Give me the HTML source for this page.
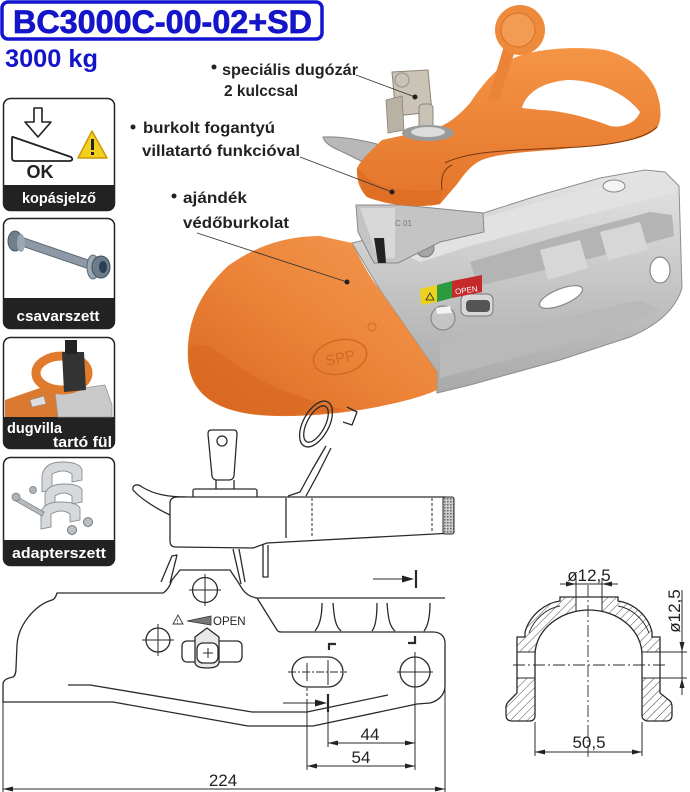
<!DOCTYPE html>
<html><head><meta charset="utf-8"><style>
html,body{margin:0;padding:0;background:#fff;}
svg{display:block;}
text{font-family:"Liberation Sans",Arial,sans-serif;}
</style></head><body>
<svg width="690" height="792" viewBox="0 0 690 792" xmlns="http://www.w3.org/2000/svg">
<defs>
<linearGradient id="og" x1="1" y1="0" x2="0" y2="1">
<stop offset="0" stop-color="#f29a52"/><stop offset="0.5" stop-color="#ec8438"/><stop offset="1" stop-color="#d8661f"/>
</linearGradient>
<linearGradient id="hg" x1="0" y1="0" x2="0" y2="1">
<stop offset="0" stop-color="#f59445"/><stop offset="1" stop-color="#e3742a"/>
</linearGradient>
<linearGradient id="sg" x1="0" y1="0" x2="0" y2="1">
<stop offset="0" stop-color="#e4e4e4"/><stop offset="0.5" stop-color="#c6c6c6"/><stop offset="1" stop-color="#a9a9a9"/>
</linearGradient>
<pattern id="hatch" patternUnits="userSpaceOnUse" width="6" height="6" patternTransform="rotate(45)">
<rect width="6" height="6" fill="#fff"/><line x1="0" y1="0" x2="0" y2="6" stroke="#333" stroke-width="0.9"/>
</pattern>
<pattern id="knurl" patternUnits="userSpaceOnUse" width="3" height="3">
<rect width="3" height="3" fill="#ccc"/><rect width="1.5" height="1.5" fill="#666"/>
</pattern>
</defs>

<!-- Title -->
<rect x="2" y="2" width="320" height="37" rx="6" fill="#fff" stroke="#1414d2" stroke-width="3.5"/>
<text x="13" y="33" font-size="32" font-weight="bold" fill="#1414c8" stroke="#1414c8" stroke-width="0.7" textLength="299" lengthAdjust="spacingAndGlyphs">BC3000C-00-02+SD</text>
<text x="5" y="67" font-size="25" font-weight="bold" fill="#1414c8" textLength="93" lengthAdjust="spacingAndGlyphs">3000 kg</text>

<!-- Icon 1 -->
<rect x="3.5" y="98.5" width="111" height="112" rx="7" fill="#fff" stroke="#222" stroke-width="1.5"/>
<path d="M4,185 H114 V203 Q114,210 107,210 H11 Q4,210 4,203 Z" fill="#222"/>
<text x="59" y="203" font-size="14.5" font-weight="bold" fill="#fff" text-anchor="middle" textLength="74" lengthAdjust="spacingAndGlyphs">kopásjelző</text>
<path d="M34,108 H42 V122 H51 L38,137 L25,122 H34 Z" fill="#fff" stroke="#222" stroke-width="1.6" stroke-linejoin="round"/>
<path d="M13,137 L71,157 Q74,160 70,161 L15,161 Q12,161 12,158 L12,139 Q12,136 13,137 Z" fill="#fff" stroke="#222" stroke-width="1.8" stroke-linejoin="round"/>
<text x="40" y="178" font-size="18" font-weight="bold" fill="#222" text-anchor="middle">OK</text>
<path d="M92,131 L107,158 L78,158 Z" fill="#f3cf20" stroke="#c99a00" stroke-width="1.5" stroke-linejoin="round"/>
<rect x="91" y="139" width="3" height="11" fill="#222"/><rect x="91" y="152" width="3" height="3" fill="#222"/>

<!-- Icon 2 -->
<rect x="3.5" y="218.5" width="111" height="110" rx="7" fill="#fff" stroke="#222" stroke-width="1.5"/>
<path d="M4,298 H114 V321 Q114,328 107,328 H11 Q4,328 4,321 Z" fill="#222"/>
<text x="58" y="321" font-size="15" font-weight="bold" fill="#fff" text-anchor="middle" textLength="83" lengthAdjust="spacingAndGlyphs">csavarszett</text>
<path d="M18,236 L94,262 L92,270 L16,244 Z" fill="#8d9aa6" stroke="#5d6a76" stroke-width="1"/>
<ellipse cx="15" cy="241" rx="7" ry="10" fill="#6f7f8c" stroke="#4a5763"/>
<ellipse cx="21" cy="243" rx="4" ry="9" fill="#9aa8b4"/>
<ellipse cx="93" cy="267" rx="6" ry="12" fill="#9aa8b4" stroke="#5d6a76"/>
<ellipse cx="101" cy="267" rx="9" ry="11" fill="#6c7c8a" stroke="#43505c"/>
<ellipse cx="103" cy="267" rx="4" ry="6" fill="#2c3e55"/>

<!-- Icon 3 -->
<rect x="3.5" y="337.5" width="111" height="111" rx="7" fill="#fff" stroke="#222" stroke-width="1.5"/>
<path d="M4,417 H114 V441 Q114,448 107,448 H11 Q4,448 4,441 Z" fill="#222"/>
<text x="7" y="433" font-size="15" font-weight="bold" fill="#fff" textLength="55" lengthAdjust="spacingAndGlyphs">dugvilla</text>
<text x="112" y="447" font-size="15" font-weight="bold" fill="#fff" text-anchor="end" textLength="59" lengthAdjust="spacingAndGlyphs">tartó fül</text>
<path d="M5,400 L40,388 L60,395 L64,417 L5,417 Z" fill="#d97a30"/>
<path d="M55,392 L105,385 L112,405 L112,417 L58,417 Z" fill="#c9c9c9" stroke="#999" stroke-width="0.8"/>
<ellipse cx="62" cy="373" rx="26" ry="17" fill="none" stroke="#e07a2c" stroke-width="9"/>
<path d="M62,352 L84,352 L86,390 L64,392 Z" fill="#333"/>
<rect x="65" y="340" width="12" height="14" fill="#222"/>
<path d="M30,400 L44,396 L46,404 L32,407 Z" fill="#ddd" stroke="#888" stroke-width="0.6"/>

<!-- Icon 4 -->
<rect x="3.5" y="457.5" width="111" height="108" rx="7" fill="#fff" stroke="#222" stroke-width="1.5"/>
<path d="M4,540 H114 V558 Q114,565 107,565 H11 Q4,565 4,558 Z" fill="#222"/>
<text x="59" y="558" font-size="15" font-weight="bold" fill="#fff" text-anchor="middle" textLength="94" lengthAdjust="spacingAndGlyphs">adapterszett</text>
<g fill="#d6d9dc" stroke="#8a9096" stroke-width="0.9">
<path d="M42,475 Q45,462 62,462 Q80,462 82,470 L82,480 L72,482 L72,474 Q64,468 52,474 L52,490 L42,492 Z"/>
<path d="M45,494 Q48,484 64,484 Q80,484 82,490 L82,502 L72,504 L72,496 Q64,490 55,496 L55,508 L45,510 Z"/>
<path d="M41,512 Q44,502 60,502 Q77,502 80,508 L80,520 L70,522 L70,514 Q62,508 51,514 L51,527 L41,529 Z"/>
</g>
<path d="M16,496 L44,512 L42,516 L14,500 Z" fill="#b5bac0" stroke="#777" stroke-width="0.7"/>
<circle cx="16" cy="497" r="4" fill="#aeb3b8" stroke="#777" stroke-width="0.7"/>
<circle cx="33" cy="490" r="3.5" fill="#aeb3b8" stroke="#777" stroke-width="0.7"/>
<circle cx="88" cy="522" r="4.5" fill="#b9bec3" stroke="#666" stroke-width="0.8"/>
<circle cx="72" cy="530" r="4.5" fill="#b9bec3" stroke="#666" stroke-width="0.8"/>

<!-- ===== PHOTO ===== -->
<!-- silver body -->
<path d="M352,243 L395,233 L455,222 L540,195 L600,178 L645,170 L665,172 L679,186 L682,288 C676,308 660,324 630,337 L560,360 L470,385 L437,393 L437,372 L380,290 Z" fill="url(#sg)" stroke="#8e8e8e" stroke-width="1"/>
<path d="M380,242 L455,226 L545,200 L645,174 L668,178 L676,192 L560,222 L470,246 L420,262 Z" fill="#e2e2e2"/>
<path d="M470,262 L560,236 L650,212 L672,215 L674,236 L600,256 L520,276 L478,286 Z" fill="#b4b4b4"/>
<path d="M540,250 L580,240 L588,268 L548,280 Z" fill="#d7d7d7"/>
<path d="M600,232 L640,222 L648,250 L608,260 Z" fill="#d7d7d7"/>
<path d="M440,340 L560,318 L640,300 L660,310 L600,335 L470,370 L440,378 Z" fill="#b9b9b9"/>
<ellipse cx="614" cy="186" rx="11" ry="6" fill="#f4f4f4" stroke="#888"/>
<ellipse cx="660" cy="270" rx="10" ry="13" fill="#fff" stroke="#888" stroke-width="1.2"/>
<ellipse cx="561" cy="297" rx="23" ry="8" transform="rotate(-22 561 297)" fill="#fff" stroke="#888" stroke-width="1.2"/>
<rect x="461" y="294" width="32" height="22" rx="6" fill="#d8d8d8" stroke="#777"/>
<rect x="466" y="300" width="24" height="12" rx="4" fill="#555"/>
<circle cx="425" cy="248" r="9" fill="#a5a5a5" stroke="#777"/>
<path d="M420,289 L437,285 L437,302 L421,305 Z" fill="#ecd21e"/>
<path d="M437,285 L452,281 L452,298 L437,302 Z" fill="#2c9a3e"/>
<path d="M452,281 L482,275 L482,292 L452,298 Z" fill="#c42a2c"/>
<text x="455" y="293" font-size="8" fill="#fff" transform="rotate(-8 466 290)">OPEN</text>
<path d="M426,300 L430,293 L434,300 Z" fill="none" stroke="#222" stroke-width="0.8"/>
<circle cx="443" cy="318" r="12" fill="#c5c5c5" stroke="#888" stroke-width="1.2"/>
<path d="M436,308 L450,306 L452,313 L437,314 Z" fill="#f3f3f3"/>

<!-- silver clamp under handle -->
<path d="M356,205 L402,205 L483,213 L484,232 L440,242 L398,263 L374,263 L358,232 Z" fill="#c4c4c4" stroke="#888" stroke-width="1"/>
<path d="M360,208 L395,208 L395,258 L378,258 Z" fill="#d8d8d8"/>
<path d="M374,238 L384,238 L386,263 L378,263 Z" fill="#222"/>
<text x="395" y="226" font-size="8" fill="#777">C 01</text>

<!-- orange cover -->
<path d="M320,236 L352,243 C362,262 370,278 380,290 L437,372 L437,390 C420,398 390,405 360,410 C320,416 280,418 250,414 C210,408 190,390 188,360 C186,322 200,292 228,266 C258,244 290,236 320,236 Z" fill="url(#og)"/>
<path d="M190,365 C195,395 215,410 260,414 C290,416 320,414 345,410 C300,398 260,385 230,360 C210,345 195,340 190,350 Z" fill="#d8671f" opacity="0.6"/>
<ellipse cx="340" cy="357" rx="27" ry="17" transform="rotate(-12 340 357)" fill="none" stroke="#d06a22" stroke-width="1.5"/>
<text x="340" y="363" font-size="15" fill="#d06a22" text-anchor="middle" transform="rotate(-12 340 357)">SPP</text>
<circle cx="372" cy="327" r="4" fill="none" stroke="#d06a22" stroke-width="0.9"/>

<!-- silver hook lever -->
<path d="M323,137 C340,136 365,140 388,147 L378,168 C365,164 348,154 336,149 C330,146 324,142 323,137 Z" fill="#b8b8b8" stroke="#858585" stroke-width="1"/>

<!-- keys -->
<path d="M392,72 L428,70 L432,112 L396,116 Z" fill="#cbc4b6" stroke="#8a8475" stroke-width="1"/>
<circle cx="402" cy="80" r="7" fill="none" stroke="#999" stroke-width="1.3"/>
<path d="M386,100 L402,96 L404,130 L388,133 Z" fill="#b8b2a5" stroke="#8a8475" stroke-width="0.8"/>
<rect x="419" y="104" width="14" height="26" rx="4" fill="#c9c3b6" stroke="#8a8475"/>

<!-- orange handle -->
<path d="M357,168 C362,158 372,150 382,140 L437,128 C452,122 462,112 470,103 C482,85 495,70 510,60 C530,48 580,46 605,50 C625,55 645,68 655,88 C662,105 662,120 657,128 C645,140 620,143 590,146 L553,150 C520,152 490,155 478,162 C465,170 460,182 452,190 L440,204 C420,208 390,206 367,197 C360,190 356,180 357,168 Z" fill="url(#hg)"/>
<path d="M357,168 C360,180 362,192 367,197 C390,206 420,208 440,204 L442,190 C420,192 390,190 372,182 Z" fill="#de6f25"/>
<path d="M522,108 C525,95 540,82 568,80 C595,80 625,92 640,112 C635,125 620,128 610,126 C590,118 560,110 540,110 Z" fill="#fff"/>
<path d="M445,163 C470,150 520,150 580,147 C620,144 645,138 657,127" fill="none" stroke="#7a3a10" stroke-width="1"/>
<path d="M442,190 C440,175 445,168 452,165" fill="none" stroke="#7a3a10" stroke-width="1"/>
<!-- lock cylinder -->
<ellipse cx="428" cy="133" rx="26" ry="8" fill="#9b9b9b"/>
<ellipse cx="428" cy="132" rx="17" ry="5" fill="#dcdcdc"/>
<!-- cap -->
<path d="M504,46 L516,48 L498,102 L488,99 Z" fill="#ec8438"/>
<circle cx="520" cy="30" r="25" fill="#ee8a3c"/>
<circle cx="518" cy="30" r="17" fill="#f29b54" stroke="#e07a2e" stroke-width="1.5"/>

<!-- leader lines -->
<g stroke="#333" stroke-width="0.9" fill="none">
<line x1="356" y1="75" x2="415" y2="97"/>
<line x1="300" y1="157" x2="392" y2="192"/>
<line x1="197" y1="233" x2="347" y2="282"/>
</g>
<g fill="#222"><circle cx="415" cy="97" r="2.5"/><circle cx="392" cy="192" r="2.5"/><circle cx="347" cy="282" r="2.5"/></g>

<!-- labels -->
<g font-size="16" font-weight="bold" fill="#222">
<circle cx="214" cy="67" r="2.5"/>
<text x="222" y="75" textLength="136" lengthAdjust="spacingAndGlyphs">speciális dugózár</text>
<text x="224" y="96" textLength="74" lengthAdjust="spacingAndGlyphs">2 kulccsal</text>
<circle cx="133" cy="127" r="2.5"/>
<text x="143" y="133" textLength="132" lengthAdjust="spacingAndGlyphs">burkolt fogantyú</text>
<text x="142" y="156" textLength="158" lengthAdjust="spacingAndGlyphs">villatartó funkcióval</text>
<circle cx="174" cy="196" r="2.5"/>
<text x="183" y="203" textLength="64" lengthAdjust="spacingAndGlyphs">ajándék</text>
<text x="183" y="228" textLength="106" lengthAdjust="spacingAndGlyphs">védőburkolat</text>
</g>

<!-- ===== LINE DRAWING ===== -->
<g fill="none" stroke="#2a2a2a" stroke-width="1.3" stroke-linejoin="round">
<!-- strap ring -->
<ellipse cx="316" cy="424" rx="13" ry="25" transform="rotate(28 316 424)"/>
<ellipse cx="316" cy="424" rx="9" ry="20" transform="rotate(28 316 424)"/>
<path d="M326,446 L312,470 L300,492 L288,496 M331,448 L318,474 L306,496"/>
<path d="M347,407 L357,412 L352,425 L343,422"/>
<!-- key -->
<path d="M211,430 L234,430 Q237,430 237,434 L234,476 Q233,480 229,480 L217,480 Q213,480 212,476 L208,434 Q208,430 211,430 Z" fill="#fff"/>
<circle cx="222" cy="441" r="5" fill="#fff"/>
<path d="M216,480 L216,490 M234,480 L234,490"/>
<rect x="193" y="489" width="64" height="9" rx="2" fill="#fff"/>
<!-- left hook -->
<path d="M170,515 C155,508 140,498 133,490 C132,485 137,483 142,487 C155,495 170,497 187,497"/>
<!-- lever handle -->
<path d="M178,497 L445,497 L453,499 L453,533 L267,543 L253,548 L176,547 Q170,547 170,541 L170,503 Q170,497 178,497 Z" fill="#fff"/>
<line x1="286" y1="498" x2="286" y2="538"/>
<line x1="312" y1="498" x2="312" y2="538" stroke-dasharray="3,2" stroke-width="1"/>
<line x1="432" y1="498" x2="432" y2="533" stroke-dasharray="3,2" stroke-width="1"/>
<rect x="443" y="497" width="11" height="37" rx="2" fill="url(#knurl)" stroke-width="1"/>
<!-- legs -->
<path d="M161,582 L172,556 L177,555 L170,583"/>
<path d="M233,549 L241,584 M239,549 L245,582"/>
<path d="M263,545 L263,577 L268,577 L268,545"/>
<!-- base outline -->
<path d="M3,703 L3,684 C3,680 8,678 13,677 C15,676 16,672 16,668 L17,645 C18,625 35,605 52,600 C55,599 56,596 57,593 L163,593 C168,590 170,585 172,580 L180,570 L230,570 L238,582 L243,590 C246,594 250,597 257,598 L445,598"/>
<path d="M257,598 L277,630 C278,632 280,632 282,632 L433,632 C440,632 445,636 445,643 L445,686 C445,695 438,701 430,703 L417,704 L313,726 L248,726 L113,702 L3,702"/>
<path d="M68,685 L90,685 L252,712 L307,712 L388,695"/>
<!-- ribs -->
<path d="M322,603 C322,615 320,625 315,631"/>
<path d="M333,603 C334,616 335,626 341,631 M372,631 C376,626 377,616 377,603"/>
<path d="M387,603 C388,616 389,626 395,631 M424,631 C428,626 430,616 430,603"/>
<!-- circles -->
<circle cx="205" cy="590" r="12.5" fill="#fff"/>
<path d="M205,574 V606 M189,590 H221" stroke-width="1"/>
<circle cx="158" cy="640" r="12" fill="#fff"/>
<path d="M158,624 V656 M142,640 H174" stroke-width="1"/>
<!-- indicator -->
<rect x="182" y="641" width="60" height="21" rx="5" fill="#fff"/>
<path d="M195,637 L207,628 L219,637 L219,662 Q219,668 207,668 Q195,668 195,662 Z" fill="#e8e8e8"/>
<rect x="197" y="643" width="21" height="20" rx="6" fill="#fff"/>
<path d="M208,648 V658 M203,653 H213" stroke-width="1"/>
<!-- slot -->
<rect x="292" y="657" width="51" height="30" rx="15" fill="#fff"/>
<circle cx="415" cy="672" r="15" fill="#fff"/>
<path d="M415,652 V692 M397,672 H433" stroke-width="1"/>
<path d="M288,672 H347" stroke-width="1" stroke-dasharray="8,2,2,2"/>
<path d="M328,660 V685 M307,663 V681" stroke-width="1"/>
<!-- corner marks -->
<path d="M329,650 L329,644 L336,644" stroke-width="2.2" stroke-linejoin="miter"/>
<path d="M408,643 L415,643 L415,636" stroke-width="2.2" stroke-linejoin="miter"/>
<!-- dimension lines -->
<g stroke-width="1">
<path d="M307,688 V697" stroke-dasharray="3,2"/>
<path d="M307,699 V770 M328,712 V747 M415,690 V770 M445,686 V792 M3,702 V792"/>
<path d="M328,743 H415 M307,766 H415 M3,789 H445"/>
<path d="M535,722 V756 M642,722 V756 M535,752 H642"/>
<path d="M283,703 H318 M373,579 H405"/>
</g>
<path d="M328,694 V712 M416,570 V588" stroke-width="2.2"/>
</g>
<g fill="#222">
<polygon points="327,703 315,699.5 315,706.5"/>
<polygon points="414,579 402,575.5 402,582.5"/>
<polygon points="328,743 338,740.5 338,745.5"/><polygon points="415,743 405,740.5 405,745.5"/>
<polygon points="307,766 317,763.5 317,768.5"/><polygon points="415,766 405,763.5 405,768.5"/>
<polygon points="3,789 13,786.5 13,791.5"/><polygon points="445,789 435,786.5 435,791.5"/>
<polygon points="535,752 545,749.5 545,754.5"/><polygon points="642,752 632,749.5 632,754.5"/>
<polygon points="576,584 566,581.5 566,586.5"/><polygon points="602,584 612,581.5 612,586.5"/>
<polygon points="682,652 679.5,642 684.5,642"/><polygon points="682,678 679.5,688 684.5,688"/>
</g>
<!-- warning + OPEN in drawing -->
<path d="M178,615 L183,624 L173,624 Z" fill="none" stroke="#333" stroke-width="0.9"/>
<text x="176.5" y="623.5" font-size="6" fill="#333">!</text>
<path d="M187,621 L211,616 L211,625 Z" fill="#777" stroke="#333" stroke-width="0.8"/>
<text x="213" y="625" font-size="11.5" fill="#222">OPEN</text>
<g font-size="17" fill="#222" text-anchor="middle">
<text x="370" y="740">44</text>
<text x="361" y="763">54</text>
<text x="223" y="786">224</text>
<text x="589" y="748">50,5</text>
<text x="589" y="581">ø12,5</text>
<text x="0" y="0" transform="translate(680,611) rotate(-90)">ø12,5</text>
</g>

<!-- ===== SECTION VIEW ===== -->
<path d="M517,637 L525,637 L525,632 C530,615 545,603 560,601 L560,597 L618,597 L618,601 C633,603 648,615 652,632 L652,637 L660,637 L660,693 L670,701 C672,703 672,705 672,707 L672,715 C672,719 670,721 666,721 L648,721 C645,721 642,719 642,716 L642,655 C642,630 618,610 589,610 C560,610 535,630 535,655 L535,716 C535,719 533,721 530,721 L512,721 C508,721 506,719 506,715 L506,707 C506,705 507,703 509,701 L517,693 Z" fill="url(#hatch)"/>
<rect x="576.5" y="597.5" width="25" height="14" fill="#fff"/>
<rect x="517.5" y="652" width="17" height="26" fill="#fff"/>
<rect x="642.5" y="652" width="17" height="26" fill="#fff"/>
<g fill="none" stroke="#2a2a2a" stroke-width="1.3">
<path d="M517,637 L525,637 L525,632 C530,615 545,603 560,601 L560,597 L618,597 L618,601 C633,603 648,615 652,632 L652,637 L660,637 L660,693 L670,701 C672,703 672,705 672,707 L672,715 C672,719 670,721 666,721 L648,721 C645,721 642,719 642,716 L642,655 C642,630 618,610 589,610 C560,610 535,630 535,655 L535,716 C535,719 533,721 530,721 L512,721 C508,721 506,719 506,715 L506,707 C506,705 507,703 509,701 L517,693 Z"/>
<path d="M529,633 C534,619 547,608 560,606 M618,606 C631,608 644,619 649,633" stroke-width="0.9"/>
<path d="M576,578 V611 M602,578 V611" stroke-width="1"/>
<path d="M517,652 H535 M517,678 H535 M642,652 H687 M642,678 H687" stroke-width="1"/>
<path d="M682,590 V695" stroke-width="1"/>
<path d="M560,584 H618" stroke-width="1"/>
<path d="M588,585 V760" stroke-width="0.9" stroke-dasharray="12,3,2,3"/>
<path d="M513,665 H665" stroke-width="0.9" stroke-dasharray="12,3,2,3"/>
</g>
</svg>
</body></html>
